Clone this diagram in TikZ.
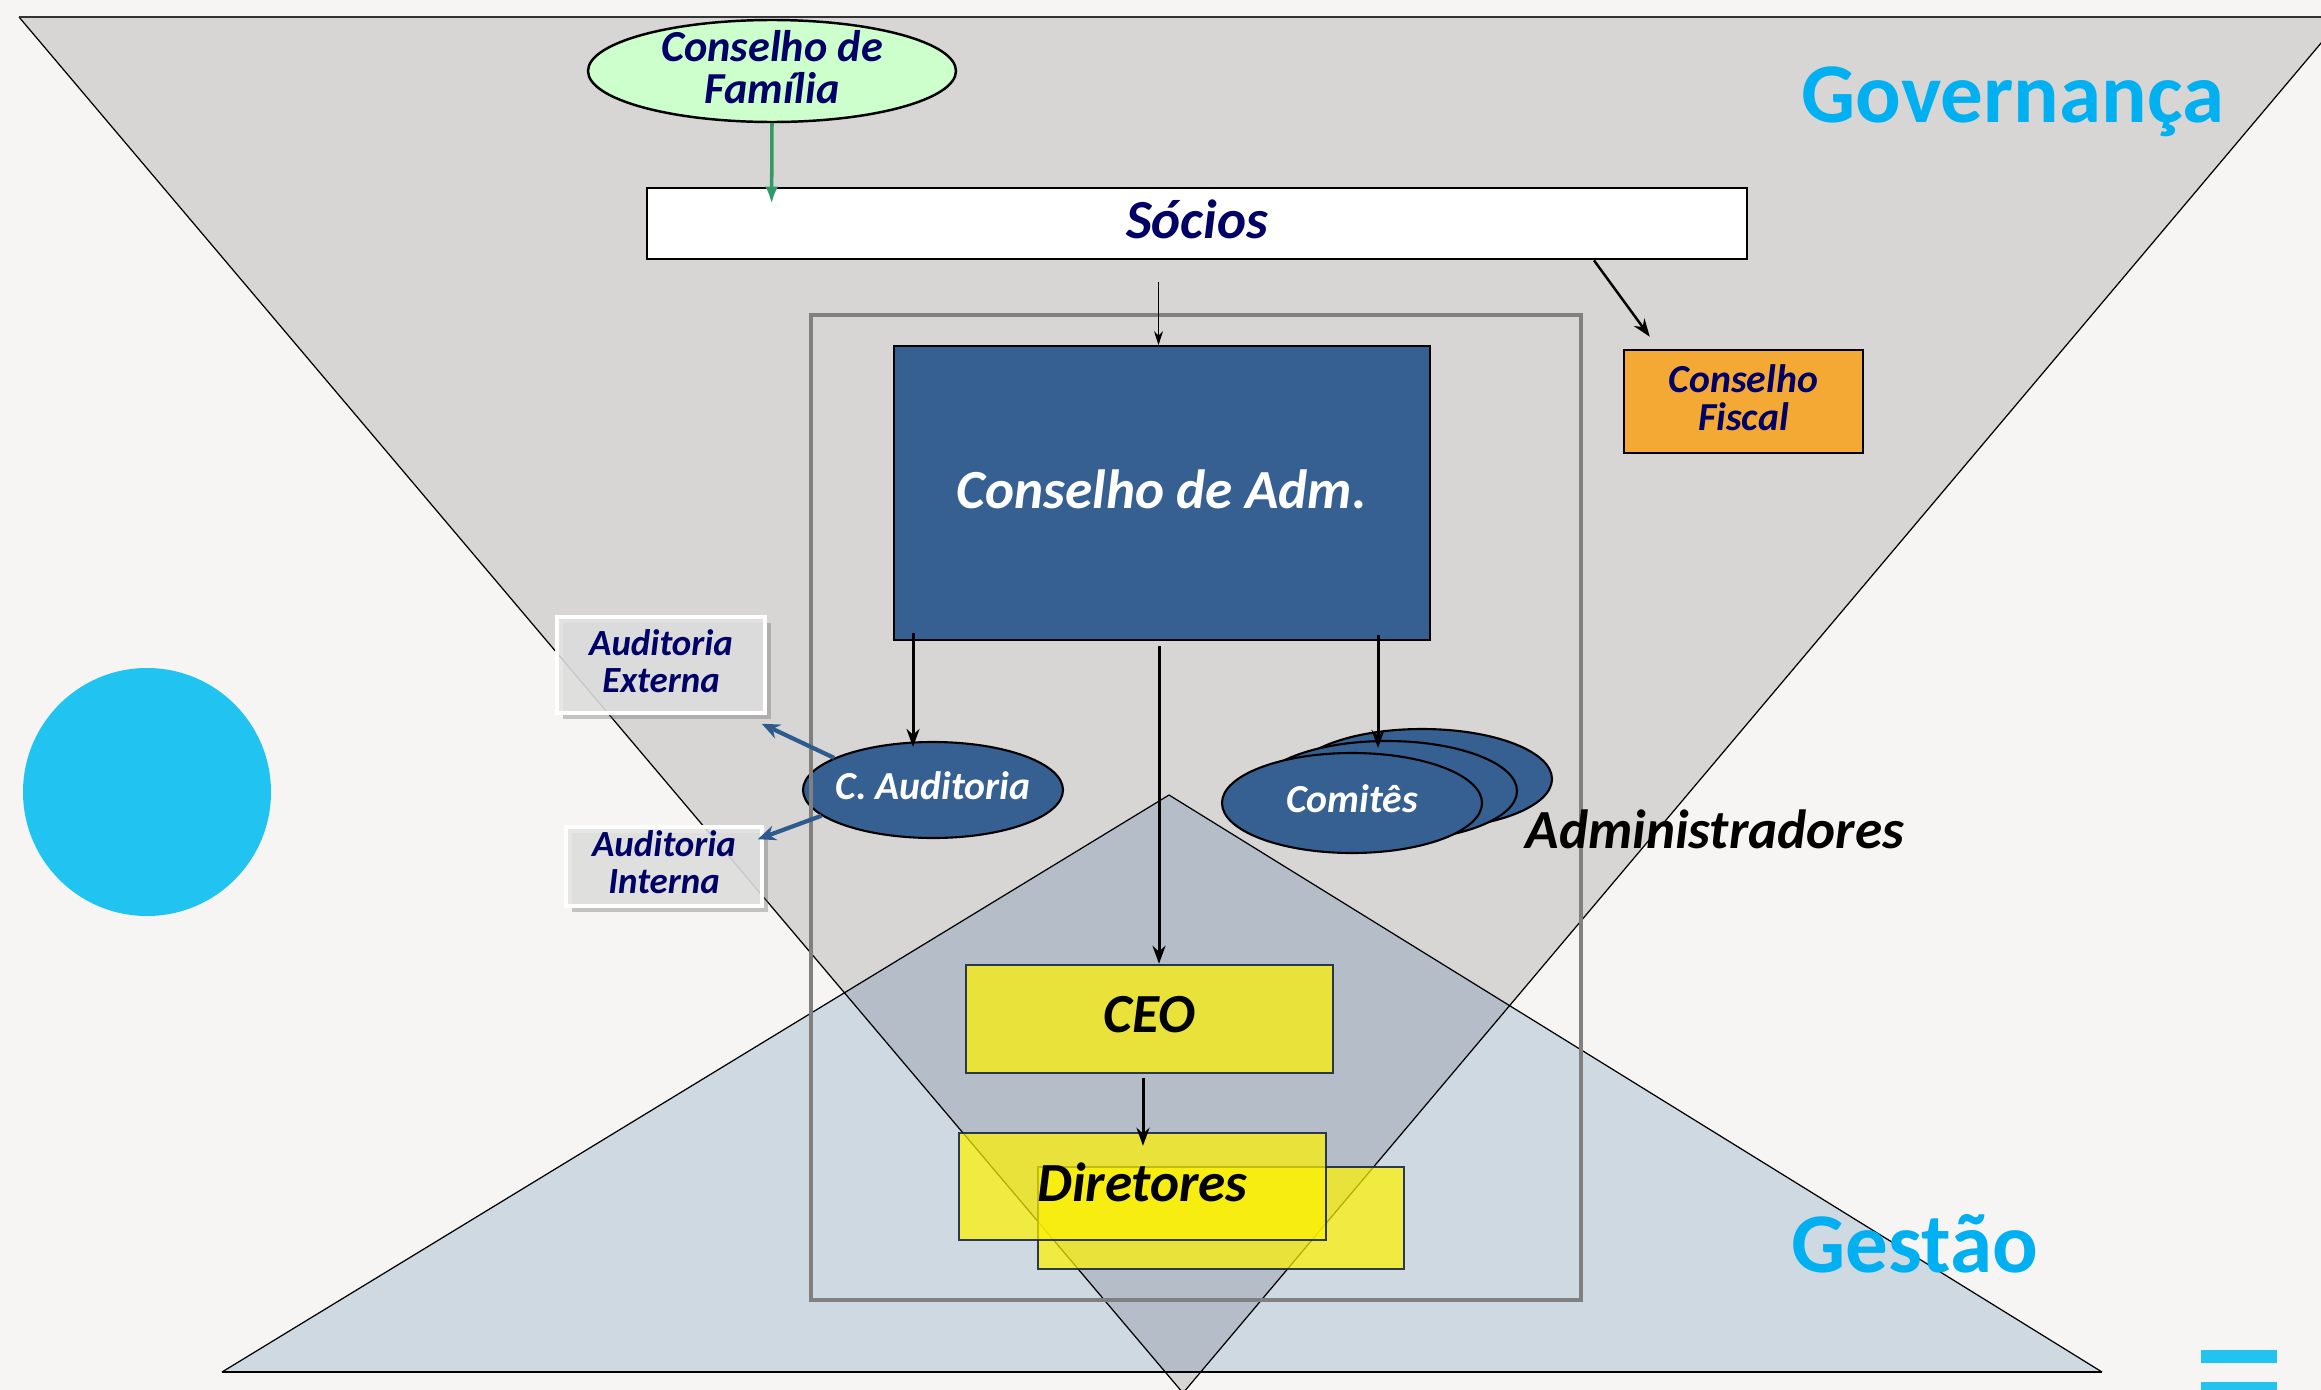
\documentclass[tikz,border=0pt]{standalone}
\usepackage{fontspec}
\setmainfont{Carlito}
\usetikzlibrary{arrows.meta,shapes.geometric,shadows,calc}
\definecolor{bgc}{RGB}{246,245,243}
\definecolor{govc}{RGB}{215,214,212}
\definecolor{gesc}{RGB}{207,217,225}
\definecolor{ovc}{RGB}{181,189,200}
\definecolor{admc}{RGB}{54,96,146}
\definecolor{navyt}{RGB}{0,0,102}
\definecolor{cyant}{RGB}{0,176,240}
\definecolor{dotc}{RGB}{33,195,240}
\definecolor{fiscc}{RGB}{244,169,53}
\definecolor{famc}{RGB}{204,255,204}
\definecolor{greenc}{RGB}{51,153,102}
\definecolor{audarr}{RGB}{46,90,142}
\definecolor{yelbd}{RGB}{23,40,70}
\definecolor{framec}{RGB}{128,128,128}
\definecolor{audfill}{RGB}{228,228,228}
\newcommand\myfsbig{\fontsize{15.7}{15}\selectfont\bfseries\itshape}
\newcommand\myfsfam{\fontsize{12.6}{12}\selectfont\bfseries\itshape}
\newcommand\myfsmid{\fontsize{11.3}{10.8}\selectfont\bfseries\itshape}
\newcommand\myfsaud{\fontsize{10.5}{10.5}\selectfont\bfseries\itshape}
\newcommand\myfshuge{\fontsize{24.2}{26}\selectfont\bfseries}
\tikzset{
  blk/.style={draw=black, line width=0.85pt, -{Stealth[length=1.8mm,width=1.3mm]}},
  thinblk/.style={draw=black, line width=0.4pt, -{Stealth[length=1.4mm,width=0.9mm]}},
  grn/.style={draw=greenc, line width=1pt, -{Latex[length=1.7mm,width=1.3mm]}},
  audarrow/.style={draw=audarr, line width=1.2pt, -{Stealth[length=1.8mm,width=1.5mm]}},
  txt/.style={yshift=0.4mm, inner sep=0, align=center},
  bluebox/.style={draw=black, line width=0.5pt, fill=admc, inner sep=0},
  blueell/.style={ellipse, draw=black, line width=0.6pt, fill=admc, inner sep=0},
  yelbox/.style={draw=yelbd, draw opacity=0.9, line width=0.7pt, fill=yellow, fill opacity=0.71, text opacity=1, inner sep=0},
  audbox/.style={draw=white, line width=1pt, fill=audfill, fill opacity=0.85, text opacity=1, inner sep=0.3mm,
    drop shadow={shadow xshift=0.6mm, shadow yshift=-0.6mm, opacity=0.35, fill=black!60}},
  hugetext/.style={font=\myfshuge, text=cyant, inner sep=0},
}
\begin{document}
\begin{tikzpicture}[x=0.1mm,y=-0.1mm]
\useasboundingbox (0,0) rectangle (2321,1390);
\clip (0,0) rectangle (2321,1390);
\fill[bgc] (0,0) rectangle (2321,1390);
% triangles
\coordinate (gA) at (19,17);
\coordinate (gB) at (2343,17);
\coordinate (gC) at (1183,1393);
\coordinate (tA) at (222,1372);
\coordinate (tB) at (2102,1372);
\coordinate (tC) at (1169,795);
\fill[govc] (gA) -- (gB) -- (gC) -- cycle;
\fill[gesc] (tA) -- (tB) -- (tC) -- cycle;
\begin{scope}
  \clip (gA) -- (gB) -- (gC) -- cycle;
  \fill[ovc] (tA) -- (tB) -- (tC) -- cycle;
\end{scope}
\draw[black, line width=0.35pt] (gA) -- (gC) -- (gB);
\draw[black!80, line width=0.8pt] (gA) -- (gB);
\draw[black, line width=0.35pt] (tA) -- (tC) -- (tB);
\draw[black, line width=0.8pt] (tA) -- (tB);
% decorations
\fill[dotc] (147,792) circle[radius=12.4mm];
\fill[dotc] (2201,1350) rectangle (2277,1363);
\fill[dotc] (2201,1382) rectangle (2277,1395);
% big labels
\node[hugetext, anchor=base west] (gov) at (1801,122) {Governança};
\node[hugetext, anchor=base west] (ges) at (1791,1272) {Gestão};
% nodes
\node[ellipse, draw=black, line width=0.7pt, fill=famc, minimum width=36.8mm, minimum height=10.2mm, inner sep=0,
  label={[txt, font=\myfsfam, text=navyt]center:Conselho de\\Família}] (fam) at (772,71) {};
\node[draw=black, line width=0.8pt, fill=white, minimum width=110mm, minimum height=7.1mm, inner sep=0,
  label={[txt, font=\myfsbig, text=navyt]center:Sócios}] (socios) at (1197,223.5) {};
\node[draw=black, line width=0.7pt, fill=fiscc, minimum width=23.9mm, minimum height=10.3mm, inner sep=0,
  label={[txt, font=\myfsmid, text=navyt]center:Conselho\\Fiscal}] (fiscal) at (1743.5,401.5) {};
\node[bluebox, minimum width=53.6mm, minimum height=29.4mm,
  label={[txt, font=\myfsbig, text=white]center:Conselho de Adm.}] (adm) at (1162,493) {};
\node[blueell, minimum width=26mm, minimum height=9.6mm,
  label={[txt, font=\myfsmid, text=white]center:C. Auditoria}] (caud) at (933,790) {};
\node[blueell, minimum width=26mm, minimum height=10mm] (com3) at (1422,779) {};
\node[blueell, minimum width=26mm, minimum height=10mm] (com2) at (1387,791) {};
\node[blueell, minimum width=26mm, minimum height=10mm,
  label={[txt, font=\myfsmid, text=white]center:Comitês}] (com1) at (1352,803) {};
\node[audbox, minimum width=20.8mm, minimum height=9.6mm,
  label={[txt, font=\myfsaud, text=navyt]center:Auditoria\\Externa}] (audext) at (661,665) {};
\node[audbox, minimum width=19.6mm, minimum height=7.9mm,
  label={[txt, font=\myfsaud, text=navyt]center:Auditoria\\Interna}] (audint) at (664,866.5) {};
\node[yelbox, minimum width=36.7mm, minimum height=10.8mm,
  label={[txt, font=\myfsbig, text=black]center:CEO}] (ceo) at (1149.5,1019) {};
\node[yelbox, minimum width=36.6mm, minimum height=10.2mm] (dir2) at (1221,1218) {};
\node[yelbox, minimum width=36.7mm, minimum height=10.7mm,
  label={[txt, font=\myfsbig, text=black]center:Diretores}] (dir1) at (1142.5,1186.5) {};
% frame
\draw[framec, line width=0.9pt] (811,315) rectangle (1581,1300);
\node[font=\myfsbig, text=black, anchor=base west, inner sep=0] (admtxt) at (1525,848) {Administradores};
% connectors
\coordinate (famtip) at ($(socios.north west)+(126,17)$);
\draw[grn] (fam.south) -- (famtip);
\draw[thinblk, shorten <=2.2mm] ([xshift=-0.35mm]socios.south -| adm.north) -- ([xshift=-0.35mm]adm.north);
\draw[blk, line width=0.7pt] ($(socios.south west)!0.86!(socios.south east)$) -- ([shift={(2.7mm,1.2mm)}]fiscal.north west);
\draw[blk] ([xshift=-2mm]adm.south -| caud.north) ++(0,-8) -- ([shift={(-2mm,-0.6mm)}]caud.north);
\draw[blk] ([xshift=-0.3mm]adm.south) ++(0,5) -- ([xshift=-0.3mm]adm.south |- ceo.north);
\draw[blk] ([xshift=-0.9mm]com2.north |- adm.south) ++(0,-6) -- ([shift={(-0.9mm,-0.8mm)}]com2.north);
\draw[blk] ([xshift=-0.65mm]ceo.south) ++(0,4) -- ([shift={(-0.65mm,-1.4mm)}]ceo.south |- dir1.north);
\draw[audarrow] (caud.162) -- ([shift={(-0.5mm,-0.9mm)}]audext.south east);
\draw[audarrow] (caud.193) -- ([shift={(-0.6mm,-1.4mm)}]audint.north east);
\end{tikzpicture}
\end{document}
